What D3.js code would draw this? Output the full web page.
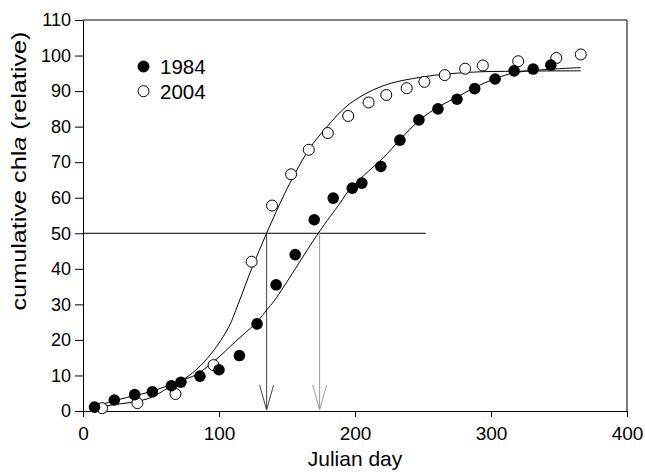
<!DOCTYPE html>
<html>
<head>
<meta charset="utf-8">
<script src="https://cdn.jsdelivr.net/npm/d3@7"></script>
<style>
  body { margin: 0; background: #fff; }
  svg { display: block; font-family: "Liberation Sans", Arial, sans-serif; }
</style>
</head>
<body>
<svg width="645" height="472"></svg>
<script>
// observed points
const days1984 = [8.5, 23, 38, 51, 65, 72, 86, 100, 115, 128, 142, 156, 170, 184, 198, 205, 219, 233, 247, 261, 275, 288, 303, 317, 331, 344];
const chl1984  = [1.1, 3.1, 4.6, 5.4, 7.1, 8.1, 9.8, 11.6, 15.6, 24.5, 35.5, 44, 53.8, 59.9, 62.7, 64.1, 68.8, 76.2, 81.9, 85, 87.7, 90.7, 93.4, 95.7, 96.2, 97.3];
const days2004 = [14, 40, 68, 96, 124, 139, 153, 166, 180, 195, 210, 223, 238, 251, 266, 281, 294, 320, 348, 366];
const chl2004  = [0.8, 2.2, 4.8, 12.9, 42, 57.8, 66.6, 73.5, 78.2, 83, 86.8, 88.9, 90.8, 92.6, 94.5, 96.3, 97.2, 98.4, 99.3, 100.3];

// fitted curves
const fitDays1984 = [8, 26, 51, 73, 82.5, 97, 112, 128, 135, 141, 173, 189, 196, 210, 221, 233, 248, 262, 275, 288, 303, 318, 346, 366];
const fitChl1984  = [1.2, 3.2, 5.6, 8.7, 10.1, 14.2, 19.5, 25.1, 28.4, 31.2, 50, 58.5, 62.3, 67.5, 71.3, 76.3, 82, 85.7, 88.3, 91, 93.5, 95.2, 96.2, 96.6];
const fitDays2004 = [8, 25, 38, 50, 63, 73, 83, 95, 107, 114, 124, 135, 145, 152, 166, 179, 196, 220, 250, 285, 320, 366];
const fitChl2004  = [0.9, 1.9, 2.6, 3.8, 6.6, 8.7, 11.5, 16.5, 23.5, 30, 40, 50, 58.5, 64, 73.5, 79.8, 86.4, 91.4, 94, 95.3, 95.6, 95.7];

// half-time marks
const halfLevel = 50;
const halfLineEnd = 252;
const halfDays = [135, 174];
const arrowColors = ['#444', '#999'];

const xTicks = [0, 100, 200, 300, 400];
const yTicks = [0, 10, 20, 30, 40, 50, 60, 70, 80, 90, 100, 110];
const seriesNames = ['1984', '2004'];

const svg = d3.select('svg');
const margin = { left: 83, right: 18, top: 20, bottom: 61 };
const W = 645, H = 472;

const x = d3.scaleLinear().domain([0, 400]).range([margin.left, W - margin.right]);
const y = d3.scaleLinear().domain([0, 110]).range([H - margin.bottom, margin.top]);

// axes
const xAxis = svg.append('g')
  .attr('transform', `translate(0,${y(0)})`)
  .call(d3.axisBottom(x).tickValues(xTicks).tickSize(6).tickSizeOuter(0).tickPadding(10));
const yAxis = svg.append('g')
  .attr('transform', `translate(${x(0)},0)`)
  .call(d3.axisLeft(y).tickValues(yTicks).tickSize(8).tickSizeOuter(0).tickPadding(4));
[xAxis, yAxis].forEach(g => {
  g.selectAll('text').attr('font-size', 18).attr('fill', '#000').attr('font-family', '"Liberation Sans", Arial, sans-serif');
  g.selectAll('line, path').attr('stroke', '#000');
});
xAxis.selectAll('text').attr('font-size', 19);

// box top + right
svg.append('path')
  .attr('d', `M${x(0)},${y(110)}H${x(400)}V${y(0)}`)
  .attr('fill', 'none').attr('stroke', '#000');

// titles
svg.append('text')
  .attr('x', x(200)).attr('y', 466)
  .attr('text-anchor', 'middle').attr('font-size', 21)
  .text('Julian day');

const yl = svg.append('text')
  .attr('transform', 'translate(26,171) rotate(-90)')
  .attr('text-anchor', 'middle').attr('font-size', 19.5)
  .attr('textLength', 279).attr('lengthAdjust', 'spacingAndGlyphs');
yl.append('tspan').text('cumulative chl');
yl.append('tspan').attr('font-style', 'italic').text('a');
yl.append('tspan').text(' (relative)');

// 50% line and arrows
svg.append('line')
  .attr('x1', x(0)).attr('x2', x(halfLineEnd))
  .attr('y1', y(halfLevel)).attr('y2', y(halfLevel))
  .attr('stroke', '#000');

halfDays.forEach((d, i) => {
  const g = svg.append('g').attr('stroke', arrowColors[i]).attr('fill', 'none');
  g.append('line')
    .attr('x1', x(d)).attr('x2', x(d))
    .attr('y1', y(halfLevel)).attr('y2', y(0) - 1);
  g.append('path')
    .attr('d', `M${x(d) - 7},${y(0) - 26}L${x(d)},${y(0) - 1}L${x(d) + 7},${y(0) - 26}`);
});

// fitted curves
const line = d3.line().x(d => x(d[0])).y(d => y(d[1])).curve(d3.curveCatmullRom.alpha(0.5));
svg.append('path')
  .datum(d3.zip(fitDays1984, fitChl1984))
  .attr('d', line).attr('fill', 'none').attr('stroke', '#000');
svg.append('path')
  .datum(d3.zip(fitDays2004, fitChl2004))
  .attr('d', line).attr('fill', 'none').attr('stroke', '#000');

// points
svg.append('g').selectAll('circle')
  .data(d3.zip(days2004, chl2004))
  .join('circle')
  .attr('cx', d => x(d[0])).attr('cy', d => y(d[1])).attr('r', 5.5)
  .attr('fill', '#fff').attr('stroke', '#000');
svg.append('g').selectAll('circle')
  .data(d3.zip(days1984, chl1984))
  .join('circle')
  .attr('cx', d => x(d[0])).attr('cy', d => y(d[1])).attr('r', 5.8)
  .attr('fill', '#000');

// legend
const legend = svg.append('g');
seriesNames.forEach((name, i) => {
  legend.append('circle')
    .attr('cx', 143.5).attr('cy', 66.5 + i * 24.7).attr('r', 5.5)
    .attr('fill', i === 0 ? '#000' : '#fff').attr('stroke', '#000');
  legend.append('text')
    .attr('x', 160).attr('y', 74 + i * 25)
    .attr('font-size', 20.5)
    .text(name);
});
</script>
</body>
</html>
